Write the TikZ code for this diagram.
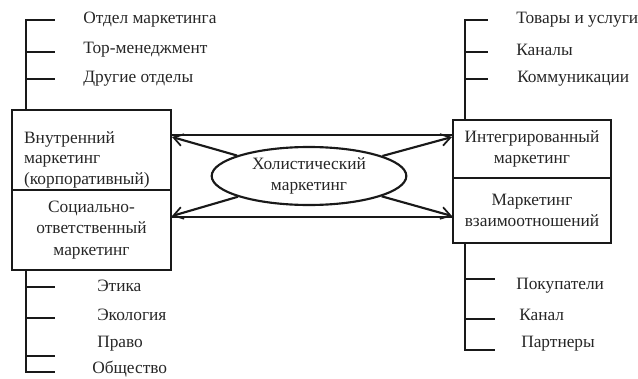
\documentclass[tikz,border=0pt]{standalone}
\usepackage{fontspec}
\setmainfont{Liberation Serif}
\usetikzlibrary{arrows.meta,shapes.geometric}
\begin{document}
\begin{tikzpicture}[x=0.75pt,y=-0.75pt,
  every node/.style={font=\fontsize{13}{16}\selectfont, text=black!85},
  ln/.style={line width=1.6pt, black!90},
  boxn/.style={draw=black!90, line width=1.6pt, inner sep=0pt, minimum width=119pt},
  arr/.style={ln, -{Straight Barb[length=7pt,width=9pt,line width=1.3pt]}},
  lbl/.style={anchor=west, inner sep=0pt}
]
\useasboundingbox (0,0) rectangle (638,378);
% boxes
\node[boxn, minimum height=60pt, align=left, text width=101pt, inner xsep=9pt] (LT) at (91.5,150) {\fontsize{13}{14.5}\selectfont\rule{0pt}{24pt}Внутренний\\маркетинг\\(корпоративный)};
\node[boxn, minimum height=60pt, align=center] (LB) at (91.5,230) {Социально-\\ответственный\\маркетинг};
\node[boxn, minimum width=118.5pt, minimum height=43.5pt, align=center] (RT) at (532,149) {Интегрированный\\маркетинг};
\node[boxn, minimum width=118.5pt, minimum height=48.75pt, align=center] (RB) at (532,210.5) {Маркетинг\\взаимоотношений};
\node[draw=black!90, line width=1.6pt, ellipse, minimum width=146pt, minimum height=43.5pt, inner sep=0pt, align=center] (E) at (309,176) {Холистический\\маркетинг};
% horizontal lines and arrows
\coordinate (a1) at (171,135);
\coordinate (a2) at (453,135);
\coordinate (b1) at (171,217);
\coordinate (b2) at (453,217);
\draw[ln] (a1) -- (a2);
\draw[ln] (b1) -- (b2);
\draw[arr] (E) -- (172,137);
\draw[arr] (E) -- (452,137);
\draw[arr] (E) -- (172,216);
\draw[arr] (E) -- (452,216);
% left top branch
\coordinate (lt) at (26,20);
\draw[ln] (LT.north -| lt) -- (lt) -- (55,20);
\draw[ln] (26,52) -- (55,52);
\draw[ln] (26,79) -- (55,79);
\node[lbl] (t1) at (83,20) {Отдел маркетинга};
\node[lbl] (t2) at (83,50) {Тор-менеджмент};
\node[lbl] (t3) at (83,79) {Другие отделы};
% left bottom branch
\coordinate (lb) at (26,372);
\draw[ln] (LB.south -| lb) -- (lb) -- (55,372);
\draw[ln] (26,287) -- (55,287);
\draw[ln] (26,318) -- (55,318);
\draw[ln] (26,356) -- (55,356);
\node[lbl] (b1t) at (97,286) {Этика};
\node[lbl] (b2t) at (97,315) {Экология};
\node[lbl] (b3t) at (97,344) {Право};
\node[lbl] (b4t) at (92,369) {Общество};
% right top branch
\coordinate (rt) at (465,20);
\draw[ln] (RT.north -| rt) -- (rt) -- (488,20);
\draw[ln] (465,52) -- (488,52);
\draw[ln] (465,79) -- (488,79);
\node[lbl] (r1) at (516,20) {Товары и услуги};
\node[lbl] (r2) at (516,50) {Каналы};
\node[lbl] (r3) at (517,79) {Коммуникации};
% right bottom branch
\coordinate (rb) at (465,350);
\draw[ln] (RB.south -| rb) -- (rb) -- (495,350);
\draw[ln] (465,279) -- (495,279);
\draw[ln] (465,319) -- (495,319);
\node[lbl] (s1) at (516,286) {Покупатели};
\node[lbl] (s2) at (519,315) {Канал};
\node[lbl] (s3) at (521,344) {Партнеры};
\end{tikzpicture}
\end{document}
